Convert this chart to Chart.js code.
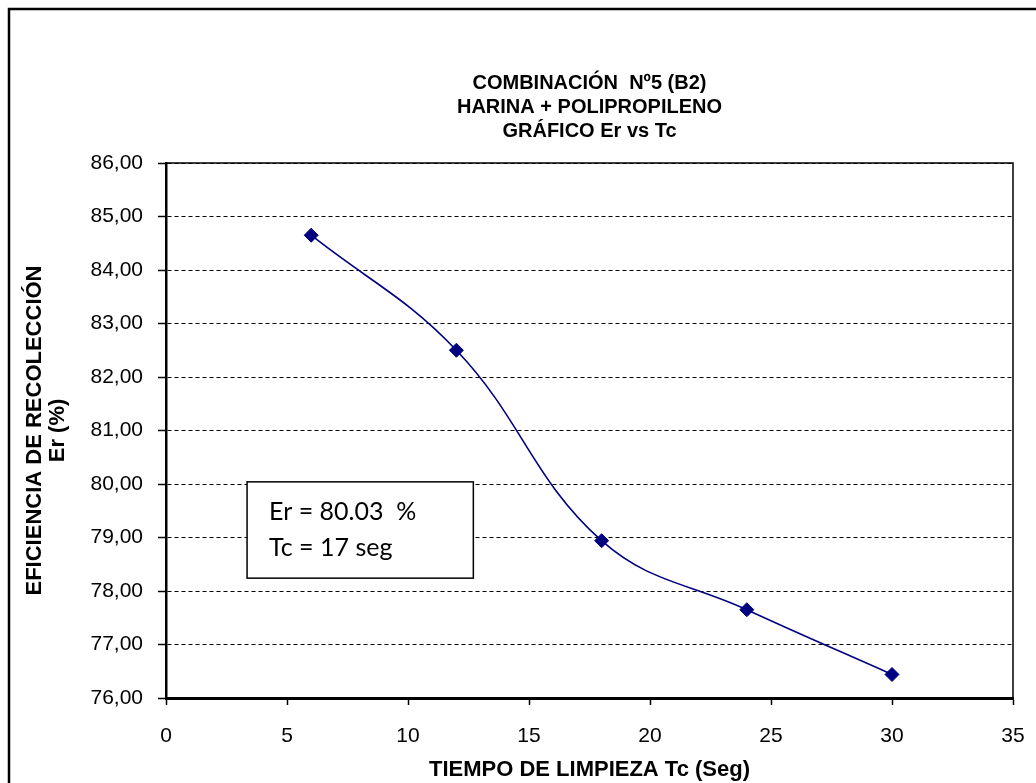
<!DOCTYPE html>
<html>
<head>
<meta charset="utf-8">
<script src="https://cdn.jsdelivr.net/npm/chart.js@4.4.0/dist/chart.umd.min.js"></script>
<style>
  html, body { margin: 0; padding: 0; background: #ffffff; }
  #wrap { width: 1036px; height: 783px; }
</style>
</head>
<body>
<div id="wrap"><canvas id="chart" width="1036" height="783"></canvas></div>
<script>
// Cleaning time (s) vs. collection efficiency (%)
const tiempoTc = [6, 12, 18, 24, 30];
const eficienciaEr = [84.65, 82.50, 78.94, 77.65, 76.44];

const titleLines = ['COMBINACIÓN  Nº5 (B2)', 'HARINA + POLIPROPILENO', 'GRÁFICO Er vs Tc'];
const xTitle = 'TIEMPO DE LIMPIEZA Tc (Seg)';
const yTitle = ['EFICIENCIA DE RECOLECCIÓN', 'Er (%)'];
const noteLines = ['Er = 80.03  %', 'Tc = 17 seg'];
// note box extent in data units (x from..to, y from..to)
const noteBoxX = [3.35, 12.7];
const noteBoxY = [80.04, 78.24];

const ink = '#000000';
const navy = '#000080';
const sans = '"Liberation Sans", Arial, sans-serif';

// outer frame of the chart
const framePlugin = {
  id: 'frame',
  afterDraw(chart) {
    const ctx = chart.ctx;
    ctx.save();
    ctx.strokeStyle = ink;
    ctx.lineWidth = 2.5;
    ctx.strokeRect(9, 9, chart.width + 20, chart.height + 20);
    ctx.restore();
  }
};

// thin top and right edges of the plot area
const plotEdgePlugin = {
  id: 'plotEdge',
  beforeDatasetsDraw(chart) {
    const {ctx, chartArea: a} = chart;
    ctx.save();
    ctx.strokeStyle = ink;
    ctx.lineWidth = 1.5;
    ctx.beginPath();
    ctx.moveTo(a.left, a.top);
    ctx.lineTo(a.right, a.top);
    ctx.lineTo(a.right, a.bottom);
    ctx.stroke();
    ctx.restore();
  }
};

// text box with the optimum reading
const notePlugin = {
  id: 'note',
  beforeDatasetsDraw(chart) {
    const {ctx, scales: {x, y}} = chart;
    const l = x.getPixelForValue(noteBoxX[0]);
    const r = x.getPixelForValue(noteBoxX[1]);
    const t = y.getPixelForValue(noteBoxY[0]);
    const b = y.getPixelForValue(noteBoxY[1]);
    ctx.save();
    ctx.fillStyle = '#ffffff';
    ctx.fillRect(l, t, r - l, b - t);
    ctx.strokeStyle = ink;
    ctx.lineWidth = 1.5;
    ctx.strokeRect(l, t, r - l, b - t);
    ctx.fillStyle = ink;
    ctx.font = '25px Lato, "Open Sans", sans-serif';
    ctx.textBaseline = 'alphabetic';
    ctx.textAlign = 'left';
    ctx.fillText(noteLines[0], l + 22, t + 38);
    ctx.fillText(noteLines[1], l + 22, t + 74);
    ctx.restore();
  }
};

new Chart(document.getElementById('chart'), {
  type: 'scatter',
  data: {
    datasets: [{
      data: tiempoTc.map((t, i) => ({x: t, y: eficienciaEr[i]})),
      showLine: true,
      borderColor: navy,
      borderWidth: 1.6,
      tension: 0.4,
      pointStyle: 'rectRot',
      pointRadius: 7,
      pointHoverRadius: 7,
      pointBackgroundColor: navy,
      pointBorderColor: navy,
      pointBorderWidth: 1
    }]
  },
  plugins: [framePlugin, plotEdgePlugin, notePlugin],
  options: {
    responsive: false,
    animation: false,
    layout: { padding: { left: 0, right: 23, top: 0, bottom: 0 } },
    plugins: {
      legend: { display: false },
      tooltip: { enabled: false },
      title: {
        display: true,
        fullSize: false,
        text: titleLines,
        color: ink,
        font: { family: sans, size: 20, weight: 'bold', lineHeight: 1.2 },
        padding: { top: 71, bottom: 20 }
      }
    },
    scales: {
      x: {
        type: 'linear',
        min: 0,
        max: 35,
        ticks: {
          stepSize: 5,
          color: ink,
          padding: 19,
          font: { family: sans, size: 21 }
        },
        grid: { display: true, drawOnChartArea: false, drawTicks: true, tickLength: 7, color: ink, tickWidth: 1.5 },
        border: { display: true, color: ink, width: 3 },
        title: {
          display: true,
          text: xTitle,
          color: ink,
          padding: { top: 1, bottom: 0 },
          font: { family: sans, size: 22, weight: 'bold', lineHeight: 1.2 }
        },
        afterFit(s) { s.height = 85; s.paddingLeft = 0; s.paddingRight = 0; }
      },
      y: {
        type: 'linear',
        min: 76,
        max: 86,
        ticks: {
          stepSize: 1,
          color: ink,
          padding: 15,
          font: { family: sans, size: 21 },
          callback: v => v.toFixed(2).replace('.', ',')
        },
        grid: {
          display: true,
          color: ink,
          lineWidth: 1,
          tickLength: 8,
          tickWidth: 1.5,
          tickBorderDash: [],
          drawTicks: true
        },
        border: { display: true, color: ink, width: 2.5, dash: [4, 3] },
        title: {
          display: true,
          text: yTitle,
          color: ink,
          padding: { top: 23, bottom: 0 },
          font: { family: sans, size: 22, weight: 'bold', lineHeight: 1.05 }
        },
        afterFit(s) { s.width = 166; s.paddingTop = 0; s.paddingBottom = 0; }
      }
    }
  }
});
</script>
</body>
</html>
